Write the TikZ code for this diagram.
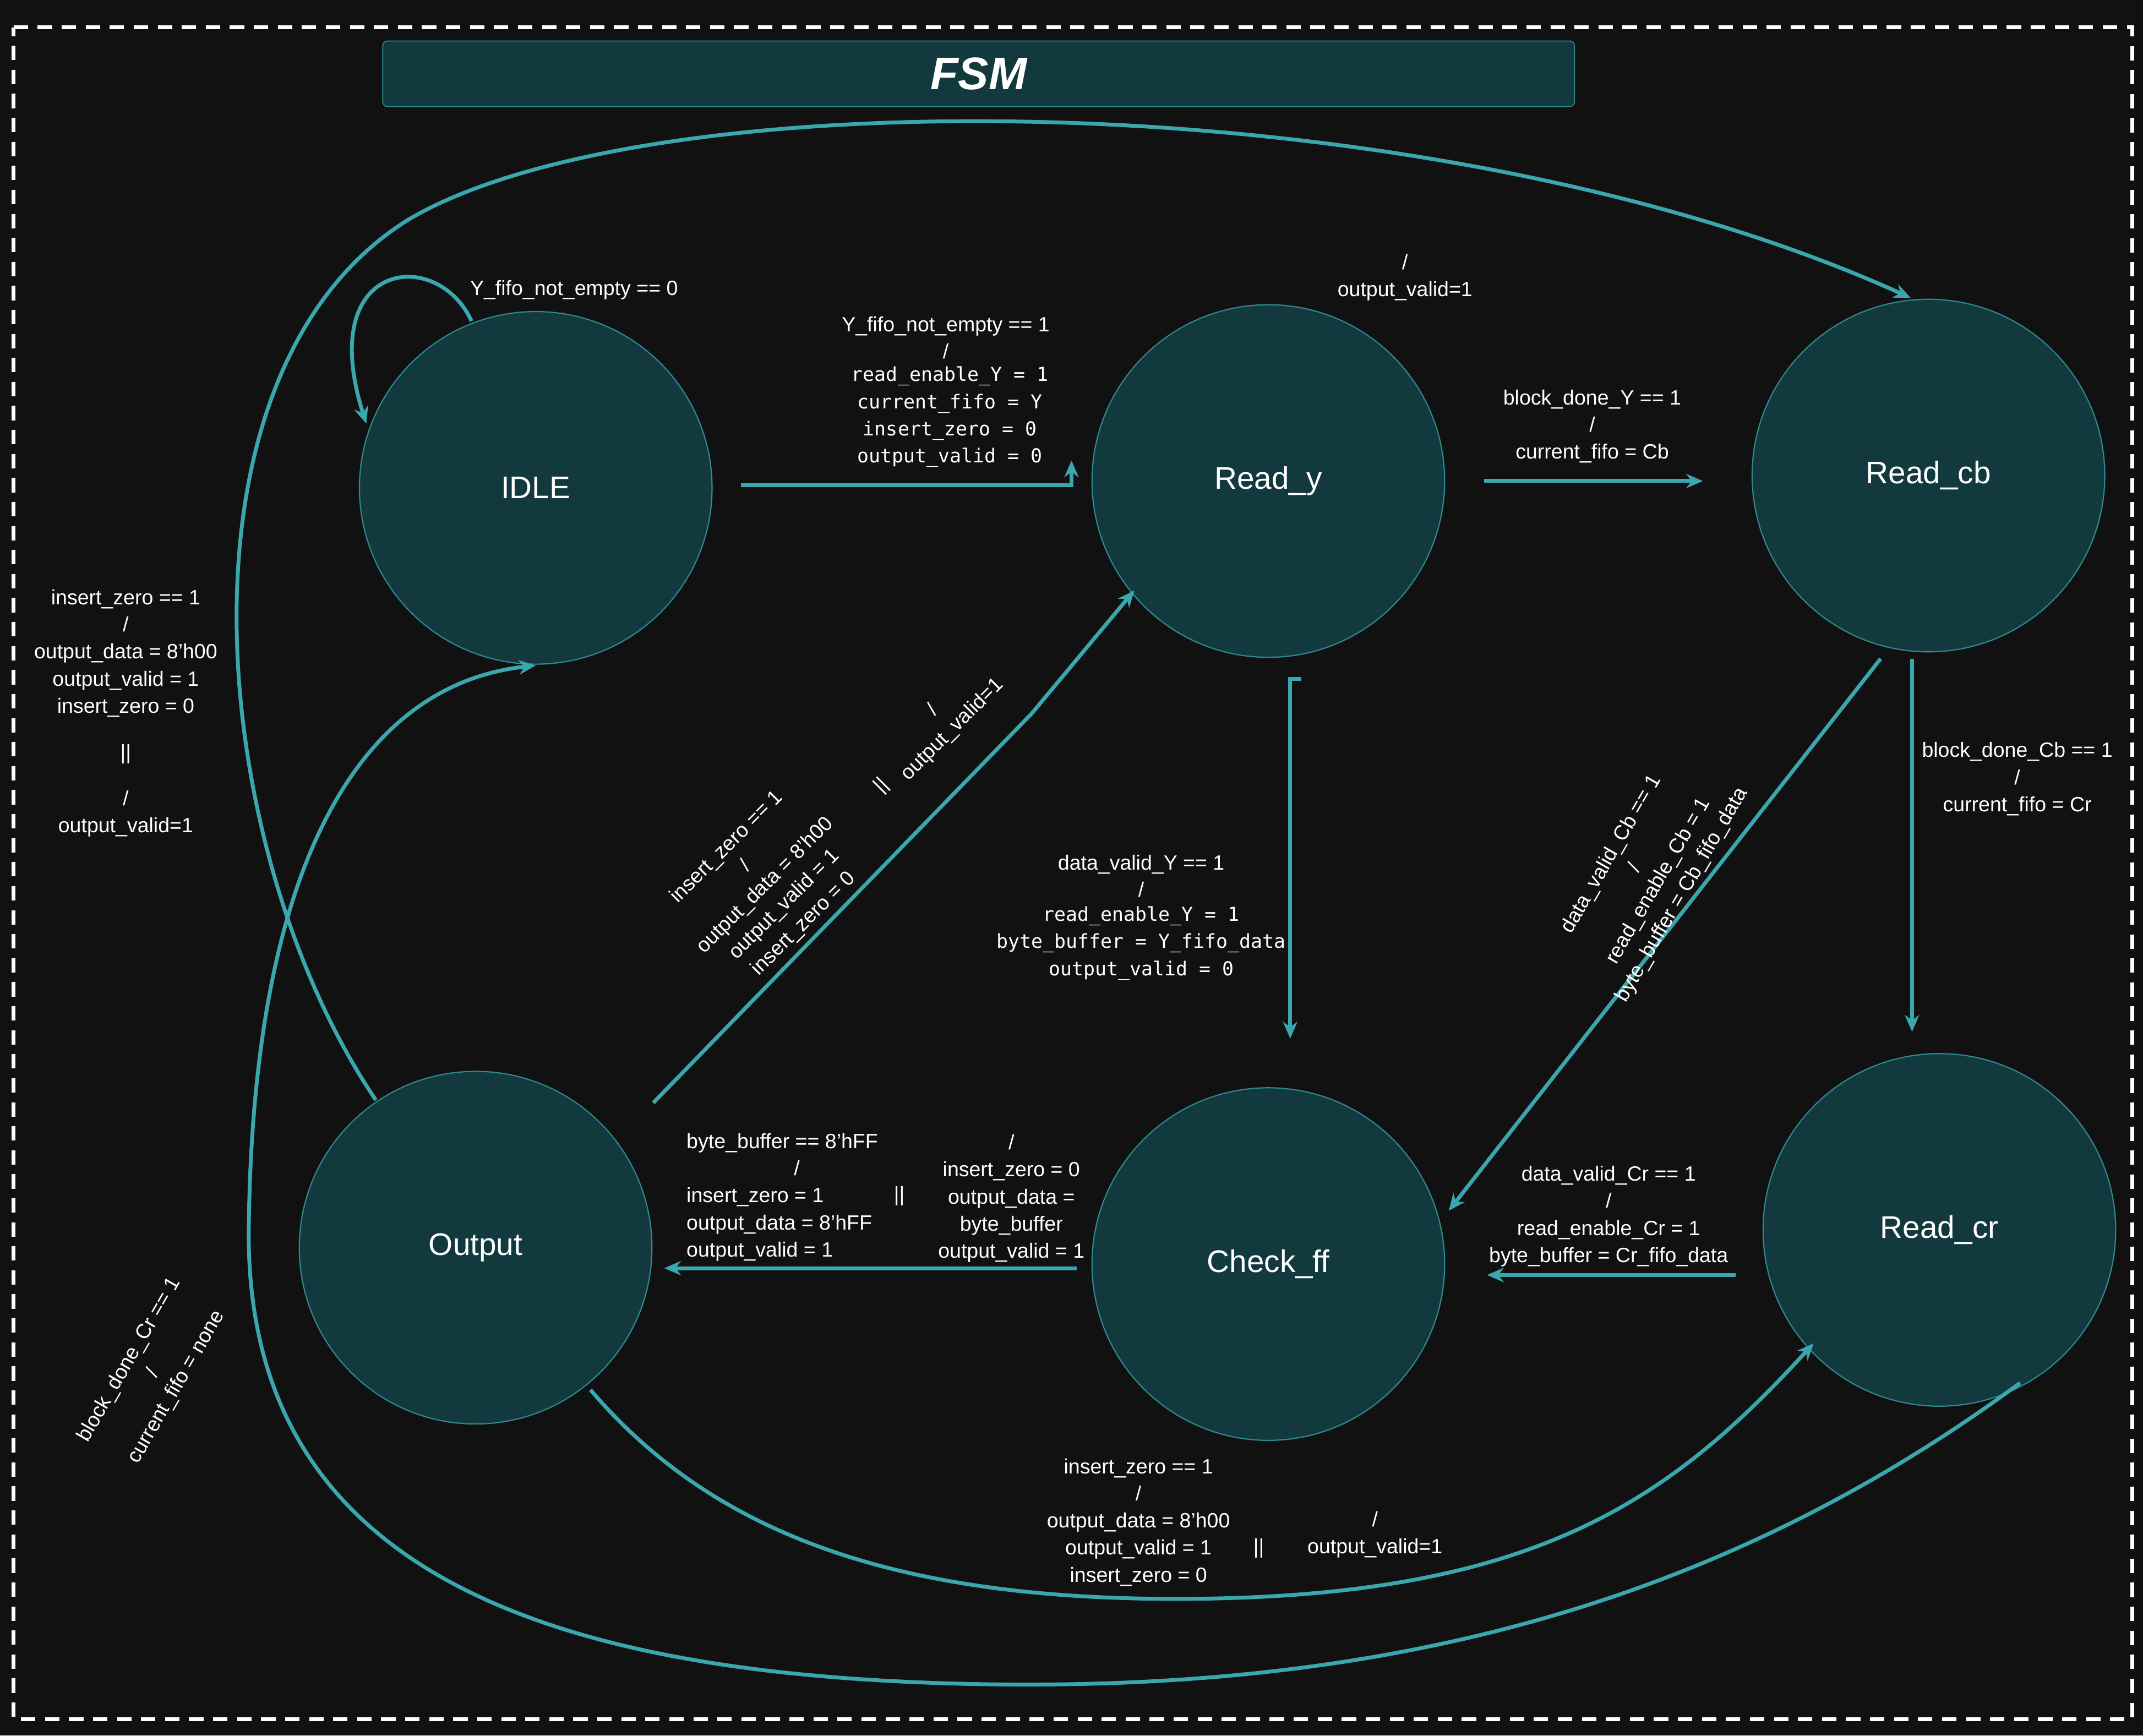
\documentclass[tikz,border=0pt]{standalone}
\usepackage{fontspec}
\setmainfont{Liberation Sans}
\newfontfamily\mono{DejaVu Sans Mono}
\usetikzlibrary{arrows.meta}
\definecolor{bg}{HTML}{111111}
\definecolor{st}{HTML}{12393D}
\definecolor{stb}{HTML}{2E8A8F}
\definecolor{ar}{HTML}{3AA6AD}
\begin{document}
\begin{tikzpicture}[x=0.02cm,y=-0.02cm,
 state/.style={circle,fill=st,draw=stb,line width=0.5pt,minimum size=258*0.02cm,text=white,font=\fontsize{13}{15}\selectfont,inner sep=0},
 edge/.style={draw=ar,line width=1.6pt,-{Stealth[length=7pt,width=6pt]}},
 lbl/.style={text=white,font=\fontsize{8.6}{11.3}\selectfont,align=center,inner sep=0},
 mlbl/.style={text=white,font=\mono\fontsize{8}{11.3}\selectfont,align=center,inner sep=0}]
\fill[bg] (0,0) rectangle (1568,1270);
\useasboundingbox (0,0) rectangle (1568,1270);
\draw[white,line width=1.6pt,dash pattern=on 6pt off 4pt] (10,20) -- (1560,20) -- (1560,1258) -- (10,1258) -- cycle;
\node[fill=st,draw=stb,rounded corners=2pt,minimum width=872*0.02cm,minimum height=48*0.02cm,text=white,font=\bfseries\itshape\fontsize{19}{22}\selectfont] (title) at (716,54) {FSM};
\node[state] (idle) at (392,357) {IDLE};
\node[state] (ry) at (928,352) {Read\_y};
\node[state] (rcb) at (1411,348) {Read\_cb};
\node[state] (out) at (348,913) {Output};
\node[state] (cff) at (928,925) {Check\_ff};
\node[state] (rcr) at (1419,900) {Read\_cr};
% edges
\coordinate (l1) at (345,235); \coordinate (l2) at (268,310);
\draw[edge] (l1) .. controls (320,180) and (230,190) .. (l2);
\coordinate (a1) at (542,355); \coordinate (a2) at (784,337);
\draw[edge] (a1) -- (784,355) -- (a2);
\coordinate (b1) at (1086,352); \coordinate (b2) at (1246,352);
\draw[edge] (b1) -- (b2);
\coordinate (c1) at (1399,482); \coordinate (c2) at (1399,755);
\draw[edge] (c1) -- (c2);
\coordinate (d1) at (952,497); \coordinate (d2) at (944,760);
\draw[edge] (d1) -- (944,497) -- (d2);
\coordinate (e1) at (1376,482); \coordinate (e2) at (1060,886);
\draw[edge] (e1) -- (e2);
\coordinate (f1) at (1270,933); \coordinate (f2) at (1088,933);
\draw[edge] (f1) -- (f2);
\coordinate (g1) at (788,928); \coordinate (g2) at (486,928);
\draw[edge] (g1) -- (g2);
\coordinate (h1) at (478,807); \coordinate (h2) at (830,432);
\draw[edge] (h1) -- (755,522) -- (h2);
\coordinate (i1) at (275,805); \coordinate (i2) at (1398,218);
\draw[edge] (i1) .. controls (150,620) and (120,270) .. (300,160) .. controls (480,55) and (1050,60) .. (i2);
\coordinate (j1) at (1478,1012); \coordinate (j2) at (392,487);
\draw[edge] (j1) .. controls (1250,1180) and (1000,1240) .. (700,1232) .. controls (400,1224) and (180,1150) .. (182,900) .. controls (185,620) and (270,500) .. (j2);
\coordinate (k1) at (432,1017); \coordinate (k2) at (1327,983);
\draw[edge] (k1) .. controls (520,1120) and (650,1170) .. (860,1170) .. controls (1120,1170) and (1220,1100) .. (k2);
% labels
\node[lbl] at (420,212) {Y\_fifo\_not\_empty == 0};
\node[lbl] at (692,247) {Y\_fifo\_not\_empty == 1\\/};
\node[mlbl,anchor=north] at (695,268) {read\_enable\_Y = 1\\current\_fifo = Y\\insert\_zero = 0\\output\_valid = 0};
\node[lbl] at (1028,203) {/\\output\_valid=1};
\node[lbl] at (1165,312) {block\_done\_Y == 1\\/\\current\_fifo = Cb};
\node[lbl] at (1476,570) {block\_done\_Cb == 1\\/\\current\_fifo = Cr};
\node[lbl,anchor=north] at (92,431) {insert\_zero == 1\\/\\output\_data = 8'h00\\output\_valid = 1\\insert\_zero = 0\\[8pt]||\\[8pt]/\\output\_valid=1};
\node[lbl] at (835,641) {data\_valid\_Y == 1\\/};
\node[mlbl,anchor=north] at (835,663) {read\_enable\_Y = 1\\byte\_buffer = Y\_fifo\_data\\output\_valid = 0};
\node[lbl] at (1177,890) {data\_valid\_Cr == 1\\/\\read\_enable\_Cr = 1\\byte\_buffer = Cr\_fifo\_data};
\node[lbl,align=left,anchor=north west] at (502,829) {byte\_buffer == 8'hFF\\\hspace*{5.2em}/\\insert\_zero = 1\\output\_data = 8'hFF\\output\_valid = 1};
\node[lbl] at (658,875) {||};
\node[lbl] at (740,877) {/\\insert\_zero = 0\\output\_data =\\byte\_buffer\\output\_valid = 1};
\node[lbl] at (833,1114) {insert\_zero == 1\\/\\output\_data = 8'h00\\output\_valid = 1\\insert\_zero = 0};
\node[lbl] at (921,1133) {||};
\node[lbl] at (1006,1123) {/\\output\_valid=1};
\node[lbl,rotate=45] at (560,648) {insert\_zero == 1\\/\\output\_data = 8'h00\\output\_valid = 1\\insert\_zero = 0};
\node[lbl,rotate=45] at (645,575) {||};
\node[lbl,rotate=45] at (690,527) {/\\output\_valid=1};
\node[lbl,rotate=60] at (1205,640) {data\_valid\_Cb == 1\\/\\read\_enable\_Cb = 1\\byte\_buffer = Cb\_fifo\_data};
\node[lbl,rotate=60] at (112,1005) {block\_done\_Cr == 1\\/\\current\_fifo = none};
\end{tikzpicture}
\end{document}
